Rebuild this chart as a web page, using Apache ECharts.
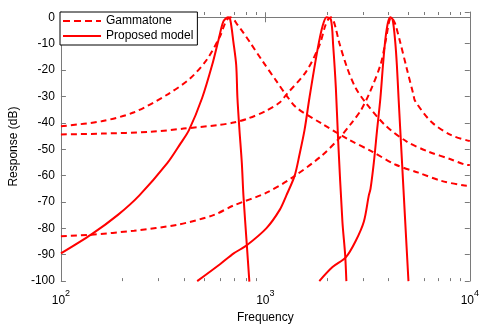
<!DOCTYPE html>
<html><head><meta charset="utf-8">
<script src="https://cdn.jsdelivr.net/npm/echarts@6/dist/echarts.min.js"></script>
<style>html,body{margin:0;padding:0;background:#fff}#c{width:482px;height:329px}</style>
</head><body><div id="c"></div>
<script>
// Gammatone filters (dashed)
const g1Freq = [100,158,228,333,431,521,602,625,650,673,700,725,780,841,972,1133,1267,1416,1905,2566,3326,4317,5600,7264,9424,10000];
const g1Resp = [-41.3,-39.4,-36,-29.2,-23,-15.7,-7,-3.6,-0.9,0,-0.8,-2.5,-5.8,-9.5,-16.8,-24.2,-29.6,-34.2,-40.5,-46.4,-50.9,-55.8,-58.9,-62,-63.8,-63.9];
const g2Freq = [100,158,276,398,582,700,813,1013,1175,1267,1583,1836,1963,2030,2092,2160,2220,2295,2518,2765,3091,3864,4914,6260,8117,9424,10000];
const g2Resp = [-44.4,-44.1,-43.4,-42.2,-40.9,-39.9,-38.5,-35.4,-32.3,-29.3,-20.6,-10.7,-3.2,-0.8,0,-1.6,-4.8,-9.5,-19.4,-26.8,-32.3,-41,-47.1,-50.9,-53.9,-55.8,-56];
const g3Freq = [100,141,228,373,557,696,1013,1359,1871,2295,2662,2924,3206,3654,3864,4009,4070,4130,4200,4319,4566,4914,5297,5397,6494,8117,10000];
const g3Resp = [-83,-82.4,-80.9,-78.6,-75,-71.4,-66.5,-60.7,-52.7,-45.9,-39.7,-35.4,-29.3,-18.1,-9.5,-2.4,-0.6,0,-0.6,-2.6,-9.5,-19.4,-29.3,-31.7,-39.7,-44.7,-46.9];
// Proposed model (solid)
const s1Freq = [100,141,190,242,332,385,423,491,549,591,624,656,673,698,720,730,747,767,781,811,835];
const s1Resp = [-89.5,-82.3,-74.9,-67.5,-55.2,-47.8,-42.8,-30.5,-18.1,-8.3,-1.5,0,-0.85,-9.5,-18.1,-30.5,-42.8,-55.2,-67.5,-86,-100.2];
const s2Freq = [464,602,700,811,1013,1175,1267,1390,1469,1554,1643,1802,1905,1993,2092,2146,2212,2269,2381,2454,2490];
const s2Resp = [-100,-93.5,-89.5,-86.4,-79.9,-73,-67.5,-60.1,-52,-42.8,-30.5,-12,-3.3,0,-0.85,-10.7,-26.8,-46.5,-77.4,-89.7,-100];
const s3Freq = [1836,2130,2474,2765,3033,3206,3268,3391,3518,3654,3761,3864,3977,4084,4192,4319,4397,4481,4566,4649,4827,5010];
const s3Resp = [-100,-94.7,-91,-84.8,-77.4,-67.5,-65,-55.2,-42.8,-30.5,-18.1,-8.3,-2,0,-0.85,-9.5,-18.1,-30.5,-42.3,-53.5,-77,-100];
// axis ticks
const yTicks = [0,-10,-20,-30,-40,-50,-60,-70,-80,-90,-100];
const xMinorTicks = [200,300,400,500,600,700,800,900,2000,3000,4000,5000,6000,7000,8000,9000];

const zip = (a,b) => a.map((v,i)=>[v,b[i]]);
const RED = '#ff0000';
const AX = '#7a7a7a';
const FONT = 'Liberation Sans, Arial, sans-serif';
const DASH_ICON = 'path://M0,0h7v2h-7zM11,0h7v2h-7zM22,0h7v2h-7zM33,0h5v2h-5z';
const SOLID_ICON = 'path://M0,0h38v2h-38z';

function lineSeries(name, f, r, dashed) {
  return {
    name, type: 'line', data: zip(f, r), symbol: 'none', showSymbol: false,
    smooth: 0.3,
    lineStyle: { color: RED, width: 2, type: dashed ? [6, 4] : 'solid' },
    itemStyle: { color: RED },
    xAxisIndex: 0, yAxisIndex: 0, z: 3
  };
}

const chart = echarts.init(document.getElementById('c'), null, {renderer: 'canvas'});
chart.setOption({
  animation: false,
  backgroundColor: '#fff',
  grid: { left: 59, right: 10, top: 12, bottom: 41, containLabel: false },
  legend: {
    data: [{ name: 'Gammatone', icon: DASH_ICON }, { name: 'Proposed model', icon: SOLID_ICON }],
    orient: 'vertical', left: 60, top: 12,
    backgroundColor: '#fff', borderColor: '#000', borderWidth: 1, borderRadius: 0,
    padding: [2, 4, 2, 3], itemGap: 1, itemWidth: 38, itemHeight: 2,
    itemStyle: { color: RED, borderWidth: 0 },
    textStyle: { fontFamily: FONT, fontSize: 12, color: '#000', lineHeight: 14 }, z: 10
  },
  xAxis: [{
    type: 'log', logBase: 10, min: 100, max: 10000,
    name: 'Frequency', nameLocation: 'middle', nameGap: 26,
    nameTextStyle: { fontFamily: FONT, fontSize: 12, color: '#000' },
    axisLine: { lineStyle: { color: AX, width: 1 } },
    axisTick: { inside: true, length: 5, lineStyle: { color: AX } },
    splitLine: { show: false },
    axisLabel: {
      margin: 8, color: '#000', fontFamily: FONT,
      formatter: v => '{b|10}{s|' + Math.round(Math.log10(v)) + '}',
      rich: {
        b: { fontSize: 12, fontFamily: FONT, color: '#000', verticalAlign: 'bottom', lineHeight: 18 },
        s: { fontSize: 9, fontFamily: FONT, color: '#000', verticalAlign: 'top', lineHeight: 18, padding: [0,0,6,0] }
      }
    }
  }, {
    type: 'log', logBase: 10, min: 100, max: 10000, position: 'top',
    axisLine: { lineStyle: { color: AX, width: 1 } },
    axisTick: { inside: true, length: 5, lineStyle: { color: AX } },
    axisLabel: { show: false }, splitLine: { show: false }
  }],
  yAxis: [{
    type: 'value', min: -100, max: 2, interval: 10,
    name: 'Response (dB)', nameLocation: 'middle', nameGap: 38,
    nameTextStyle: { fontFamily: FONT, fontSize: 12, color: '#000' },
    axisLine: { show: true, lineStyle: { color: AX, width: 1 } },
    axisTick: { show: true, inside: true, length: 5, lineStyle: { color: AX } },
    splitLine: { show: false },
    axisLabel: { margin: 6, fontFamily: FONT, fontSize: 12, color: '#000',
      formatter: v => yTicks.includes(v) ? String(v) : '' }
  }, {
    type: 'value', min: -100, max: 2, interval: 10, position: 'right',
    axisLine: { show: true, lineStyle: { color: AX, width: 1 } },
    axisTick: { show: true, inside: true, length: 5, lineStyle: { color: AX } },
    splitLine: { show: false }, axisLabel: { show: false }
  }],
  series: [
    lineSeries('Gammatone', g1Freq, g1Resp, true),
    lineSeries('Gammatone', g2Freq, g2Resp, true),
    lineSeries('Gammatone', g3Freq, g3Resp, true),
    lineSeries('Proposed model', s1Freq, s1Resp, false),
    lineSeries('Proposed model', s2Freq, s2Resp, false),
    lineSeries('Proposed model', s3Freq, s3Resp, false),
    {
      name: 'minorTicks', type: 'custom', xAxisIndex: 0, yAxisIndex: 0, z: 2,
      data: xMinorTicks.map(v => [v]),
      renderItem: (params, api) => {
        const b = api.coord([api.value(0), -100]);
        const t = api.coord([api.value(0), 2]);
        const st = { stroke: AX, lineWidth: 1 };
        return { type: 'group', children: [
          { type: 'line', shape: { x1: Math.round(b[0])+0.5, y1: b[1], x2: Math.round(b[0])+0.5, y2: b[1]-3 }, style: st },
          { type: 'line', shape: { x1: Math.round(t[0])+0.5, y1: t[1], x2: Math.round(t[0])+0.5, y2: t[1]+3 }, style: st }
        ]};
      }
    }
  ]
});
</script></body></html>
